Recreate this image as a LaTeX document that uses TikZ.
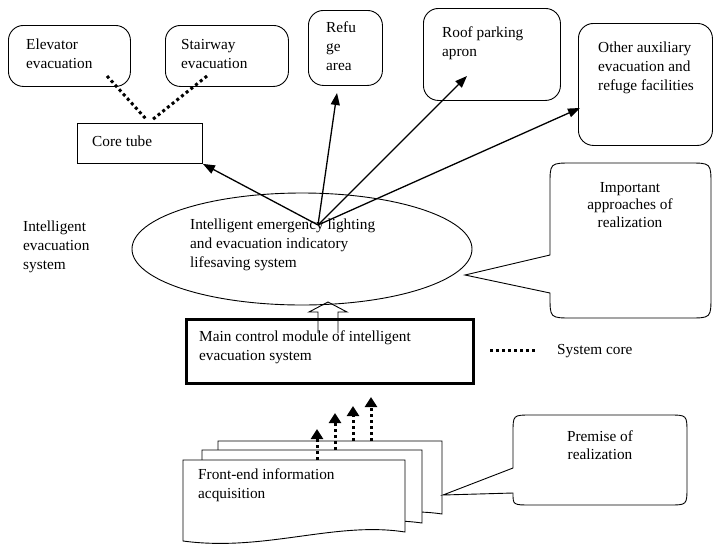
\documentclass[tikz,border=0pt]{standalone}
\usepackage{fontspec}
\setmainfont{Liberation Serif}
\usetikzlibrary{arrows.meta,shapes.geometric}
\begin{document}
\begin{tikzpicture}[x=1pt,y=-1pt,
  txt/.style={inner sep=0pt, align=left, anchor=north west, font=\fontsize{15.3}{19}\selectfont},
  ctxt/.style={inner sep=0pt, align=center, anchor=north, font=\fontsize{15.3}{17.5}\selectfont},
  rbox/.style={draw, rounded corners=15pt, line width=0.9pt, anchor=north west, inner sep=0pt},
  sbox/.style={draw, line width=0.9pt, anchor=north west, inner sep=0pt},
  arr/.style={-{Triangle[length=12pt,width=9pt]}, line width=1.3pt},
  dotline/.style={line width=3pt, dash pattern=on 3pt off 3pt},
  dotarr/.style={line width=3pt, dash pattern=on 3pt off 3pt, -{Triangle[length=10pt,width=12pt]}},
  thin/.style={line width=0.9pt},
]
\useasboundingbox (0,0) rectangle (713,547);

% top boxes
\node[rbox, minimum width=122pt, minimum height=61pt] (elev) at (8,25) {};
\node[rbox, minimum width=123pt, minimum height=61pt] (stair) at (165,25) {};
\node[rbox, minimum width=74pt, minimum height=75pt] (refuge) at (308,10) {};
\node[rbox, minimum width=137pt, minimum height=92pt] (roof) at (423,8) {};
\node[rbox, minimum width=134pt, minimum height=122pt] (other) at (578,23) {};
\node[sbox, minimum width=125pt, minimum height=40pt] (core) at (77,123) {};

\node[txt] (elevt) at (26,39) {Elevator\\evacuation};
\node[txt] (stairt) at (181,39) {Stairway\\evacuation};
\node[txt] (refuget) at (326,22) {Refu\\ge\\area};
\node[txt] (rooft) at (442,27) {Roof parking\\apron};
\node[txt] (othert) at (598,42) {Other auxiliary\\evacuation and\\refuge facilities};
\node[txt] (coret) at (92,136) {Core tube};

% dotted links core tube
\coordinate (eA) at (107,76);
\coordinate (eB) at (146,119);
\coordinate (sA) at (207,76);
\coordinate (sB) at (152,120);
\draw[dotline] (eA) -- (eB);
\draw[dotline] (sA) -- (sB);

% ellipse
\node[draw, thin, ellipse, minimum width=340pt, minimum height=112pt, inner sep=0pt] (ell) at (302,249) {};
\node[txt] (ellt) at (190,219) {Intelligent emergency lighting\\and evacuation indicatory\\lifesaving system};
\node[txt] (ies) at (23,221) {Intelligent\\evacuation\\system};

% arrows from hub
\coordinate (hub) at (318,225);
\coordinate (tRef) at (337,93);
\coordinate (tRoof) at (467,76);
\coordinate (tOther) at (580,108);
\draw[arr] (hub) -- (core.south east);
\draw[arr] (hub) -- (tRef);
\draw[arr] (hub) -- (tRoof);
\draw[arr] (hub) -- (tOther);

% callout important approaches
\draw[thin] (465,275) -- (550,255) -- (550,185) .. controls (550,163) .. (572,163) -- (689,163) .. controls (711,163) .. (711,185) -- (711,296) .. controls (711,318) .. (689,318) -- (572,318) .. controls (550,318) .. (550,296) -- (550,293) -- cycle;
\node[ctxt] (impt) at (630,182) {Important\\approaches of\\realization};

% main control
\node[draw, line width=2.5pt, anchor=north west, minimum width=287pt, minimum height=64pt, inner sep=0pt] (main) at (185,318) {};
\node[txt] (maint) at (199,331) {Main control module of intelligent\\evacuation system};

% hollow arrow
\draw[thin] (318,333) -- (318,312) -- (309,312) -- (328,302) -- (347,312) -- (338,312) -- (338,333);

% legend
\coordinate (lgA) at (490,350);
\coordinate (lgB) at (537,350);
\draw[dotline] (lgA) -- (lgB);
\node[txt, anchor=west] (lgt) at (557,351) {System core};

% document stack
\draw[thin, fill=white] (218,441) -- (442,441) -- (442,514) .. controls (377,504) and (307,534) .. (218,522) -- cycle;
\draw[thin, fill=white] (202,450) -- (422,450) -- (422,523) .. controls (352,513) and (282,543) .. (202,531) -- cycle;
\draw[thin, fill=white] (183,460) -- (405,460) -- (405,532) .. controls (335,521) and (265,552) .. (183,541) -- cycle;
\node[txt] (fet) at (198,469) {Front-end information\\acquisition};

% dotted arrows
\coordinate (d1a) at (317,460); \coordinate (d1b) at (317,429);
\coordinate (d2a) at (335,450); \coordinate (d2b) at (335,413);
\coordinate (d3a) at (353,441); \coordinate (d3b) at (353,406);
\coordinate (d4a) at (371,441); \coordinate (d4b) at (371,397);
\draw[dotarr] (d1a) -- (d1b);
\draw[dotarr] (d2a) -- (d2b);
\draw[dotarr] (d3a) -- (d3b);
\draw[dotarr] (d4a) -- (d4b);

% premise callout
\draw[thin] (443,495) -- (513,468) -- (513,433) .. controls (513,415) .. (531,415) -- (669,415) .. controls (687,415) .. (687,433) -- (687,487) .. controls (687,505) .. (669,505) -- (531,505) .. controls (513,505) .. (513,493) -- cycle;
\node[ctxt] (premt) at (600,431) {Premise of\\realization};
\end{tikzpicture}
\end{document}
